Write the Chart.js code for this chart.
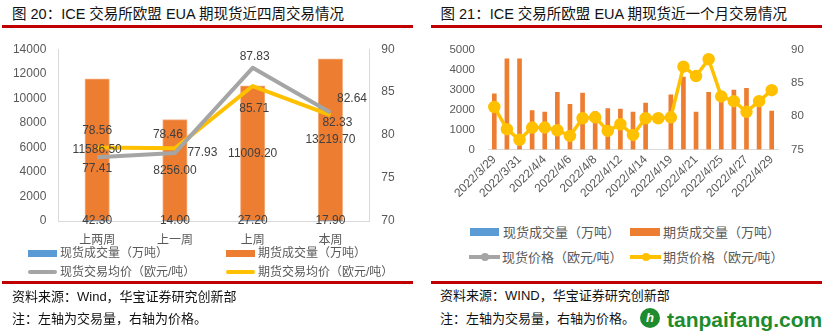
<!DOCTYPE html>
<html><head><meta charset="utf-8">
<script src="https://cdn.jsdelivr.net/npm/chart.js@4.4.1/dist/chart.umd.min.js"></script>
<style>
body{margin:0;width:838px;height:336px;background:#fff;position:relative;overflow:hidden;font-family:"Liberation Sans","Noto Sans CJK SC",sans-serif;}
.abs{position:absolute;white-space:nowrap;line-height:1;}
.title{font-size:14.5px;color:#111;}
.red{position:absolute;background:#C00000;height:3px;}
.foot{font-size:13px;color:#111;}
.legl{font-size:12px;color:#595959;}
.legr{font-size:13px;color:#595959;}
canvas{position:absolute;}
</style></head>
<body>
<div class="abs title" style="left:12px;top:6.5px;">图 20：ICE 交易所欧盟 EUA 期现货近四周交易情况</div>
<div class="red" style="left:2px;top:24.5px;width:411px;"></div>
<div class="abs title" style="left:440.5px;top:6.5px;">图 21：ICE 交易所欧盟 EUA 期现货近一个月交易情况</div>
<div class="red" style="left:431px;top:24.5px;width:391px;"></div>

<canvas id="c1" width="420" height="220" style="left:0;top:30px;"></canvas>
<canvas id="c2" width="418" height="185" style="left:420px;top:30px;"></canvas>

<!-- left legend -->
<div class="abs" style="left:28px;top:250px;width:29px;height:7px;background:#5B9BD5;"></div>
<div class="abs legl" style="left:60px;top:247.3px;">现货成交量（万吨）</div>
<div class="abs" style="left:226px;top:250px;width:29px;height:7px;background:#ED7D31;"></div>
<div class="abs legl" style="left:258px;top:247.3px;">期货成交量（万吨）</div>
<div class="abs" style="left:28px;top:269.7px;width:29px;height:4px;border-radius:2px;background:#A5A5A5;"></div>
<div class="abs legl" style="left:60px;top:265.7px;">现货交易均价（欧元/吨）</div>
<div class="abs" style="left:226px;top:269.7px;width:29px;height:4px;border-radius:2px;background:#FFC000;"></div>
<div class="abs legl" style="left:258px;top:265.7px;">期货交易均价（欧元/吨）</div>
<div class="red" style="left:2px;top:280.5px;width:411px;"></div>
<div class="abs foot" style="left:12px;top:289.5px;">资料来源：Wind，华宝证券研究创新部</div>
<div class="abs foot" style="left:12px;top:311.5px;">注：左轴为交易量，右轴为价格。</div>

<!-- right legend -->
<div class="abs" style="left:470px;top:228.3px;width:29px;height:8px;background:#5B9BD5;"></div>
<div class="abs legr" style="left:503px;top:225.8px;">现货成交量（万吨）</div>
<div class="abs" style="left:630px;top:228.3px;width:30px;height:8px;background:#ED7D31;"></div>
<div class="abs legr" style="left:663px;top:225.8px;">期货成交量（万吨）</div>
<div class="abs" style="left:469px;top:255.3px;width:31px;height:4px;background:#A5A5A5;"></div>
<div class="abs" style="left:480.5px;top:253.3px;width:8px;height:8px;border-radius:4px;background:#A5A5A5;"></div>
<div class="abs legr" style="left:502px;top:250.8px;">现货价格（欧元/吨）</div>
<div class="abs" style="left:630px;top:255.3px;width:31px;height:4px;background:#FFC000;"></div>
<div class="abs" style="left:641.5px;top:253.3px;width:8px;height:8px;border-radius:4px;background:#FFC000;"></div>
<div class="abs legr" style="left:663px;top:250.8px;">期货价格（欧元/吨）</div>
<div class="red" style="left:431px;top:281.3px;width:391px;"></div>
<div class="abs foot" style="left:440px;top:288.5px;">资料来源：WIND，华宝证券研究创新部</div>
<div class="abs foot" style="left:440px;top:311.8px;">注：左轴为交易量，右轴为价格。</div>
<div class="abs" style="left:640px;top:308px;width:20px;height:20px;border-radius:10px;background:#1E8C2E;color:#fff;font:bold italic 13px 'Liberation Sans';text-align:center;line-height:20px;">h</div>
<div class="abs" style="left:667px;top:307.5px;font:bold 21px 'Liberation Sans',Arial,sans-serif;color:#1E8C2E;">tanpaifang.com</div>

<script>
// ===== Figure 20 data =====
const weekCats = ['上两周','上一周','上周','本周'];
const weekSpotVol = [42.30, 14.00, 27.20, 17.90];
const weekFutVol = [11586.50, 8256.00, 11009.20, 13219.70];
const weekSpotPrice = [77.41, 77.93, 87.83, 82.64];
const weekFutPrice = [78.56, 78.46, 85.71, 82.33];
const leftAxisTicks = [0, 2000, 4000, 6000, 8000, 10000, 12000, 14000];
const rightAxisTicks20 = [70, 75, 80, 85, 90];

// ===== Figure 21 data =====
const dayCats = ['2022/3/29','2022/3/30','2022/3/31','2022/4/1','2022/4/4','2022/4/5','2022/4/6','2022/4/7','2022/4/8','2022/4/11','2022/4/12','2022/4/13','2022/4/14','2022/4/18','2022/4/19','2022/4/20','2022/4/21','2022/4/22','2022/4/25','2022/4/26','2022/4/27','2022/4/28','2022/4/29'];
const daySpotVol = [];
const dayFutVol = [2800, 4550, 4550, 1950, 1880, 2870, 2270, 2830, 1900, 2050, 2030, 1880, 2330, null, 2750, 3630, 1880, 2870, 2900, 2980, 3070, 2400, 1930];
const daySpotPrice = [];
const dayFutPrice = [81.4, 78.06, 76.46, 78.3, 78.3, 77.9, 77.04, 79.7, 79.85, 77.8, 78.8, 77.2, 79.7, 79.7, 79.85, 87.47, 86.06, 88.6, 83.0, 82.28, 80.68, 82.28, 83.93];

const TICK = '#595959';
const AXIS = '#D9D9D9';
const numFont = {family: '"Liberation Sans", Arial, sans-serif', size: 12};
const plain = v => String(v);

const valueLabels = {
  id: 'valueLabels',
  afterDatasetsDraw(chart) {
    const ctx = chart.ctx;
    chart.data.datasets.forEach((ds, i) => {
      if (!ds.showValues) return;
      const meta = chart.getDatasetMeta(i);
      meta.data.forEach((el, j) => {
        const v = ds.data[j];
        if (v == null) return;
        let x, y;
        if (meta.type === 'bar') { x = el.x; y = (el.y + el.base) / 2; }
        else { const o = ds.labelOffsets[j]; x = el.x + o[0]; y = el.y + o[1]; }
        ctx.save();
        ctx.font = '12px "Liberation Sans", Arial, sans-serif';
        ctx.fillStyle = '#404040';
        ctx.textAlign = 'center';
        ctx.textBaseline = 'middle';
        ctx.fillText(v.toFixed(2), x, y);
        ctx.restore();
      });
    });
  }
};

new Chart(document.getElementById('c1'), {
  data: {
    labels: weekCats,
    datasets: [
      {type: 'line', data: weekSpotPrice, yAxisID: 'y1', borderColor: '#A5A5A5', borderWidth: 4, pointRadius: 0, order: 0,
       borderJoinStyle: 'round', showValues: true, labelOffsets: [[0, 11], [27.5, 0], [2, -11.5], [21.6, -14]]},
      {type: 'line', data: weekFutPrice, yAxisID: 'y1', borderColor: '#FFC000', borderWidth: 4, pointRadius: 0, order: 0,
       borderJoinStyle: 'round', showValues: true, labelOffsets: [[0, -17], [-7, -14], [1.6, 23], [7, 7.3]]},
      {type: 'bar', data: weekSpotVol, yAxisID: 'y', backgroundColor: '#5B9BD5', barThickness: 24.5, grouped: false, order: 1, showValues: true},
      {type: 'bar', data: weekFutVol, yAxisID: 'y', backgroundColor: '#ED7D31', borderColor: '#F4B183', borderWidth: 1, barThickness: 24.5, grouped: false, order: 2, showValues: true}
    ]
  },
  options: {
    responsive: false, animation: false, devicePixelRatio: 1,
    layout: {padding: {top: 11, left: 0, right: 0, bottom: 0}},
    plugins: {legend: {display: false}, tooltip: {enabled: false}},
    scales: {
      x: {grid: {display: false, drawTicks: false}, border: {display: true, color: AXIS},
          ticks: {color: TICK, font: {family: '"Noto Sans CJK SC", sans-serif', size: 12}, padding: 11},
          afterFit: s => { s.height = 29; }},
      y: {position: 'left', min: 0, max: 14000, grid: {display: false, drawTicks: false}, border: {display: true, color: AXIS},
          afterBuildTicks: s => { s.ticks = leftAxisTicks.map(v => ({value: v})); },
          ticks: {color: TICK, font: numFont, padding: 12, callback: plain}, afterFit: s => { s.width = 58.3; }},
      y1: {position: 'right', min: 70, max: 90, grid: {display: false, drawTicks: false}, border: {display: true, color: AXIS},
          afterBuildTicks: s => { s.ticks = rightAxisTicks20.map(v => ({value: v})); },
          ticks: {color: TICK, font: numFont, padding: 12, callback: plain}, afterFit: s => { s.width = 50.7; }}
    }
  },
  plugins: [valueLabels]
});

const numFont2 = {family: '"Liberation Sans", Arial, sans-serif', size: 11.5};
new Chart(document.getElementById('c2'), {
  data: {
    labels: dayCats,
    datasets: [
      {type: 'line', data: daySpotPrice, yAxisID: 'y1', borderColor: '#A5A5A5', backgroundColor: '#A5A5A5', borderWidth: 3.5, pointRadius: 4.5, order: 1},
      {type: 'line', data: dayFutPrice, yAxisID: 'y1', borderColor: '#FFC000', backgroundColor: '#FFC000', pointBackgroundColor: '#FFC000', pointBorderColor: '#FFC000',
       borderWidth: 3.5, pointRadius: 4.5, borderJoinStyle: 'round', order: 0},
      {type: 'bar', data: daySpotVol, yAxisID: 'y', backgroundColor: '#5B9BD5', barThickness: 4, grouped: false, order: 2},
      {type: 'bar', data: dayFutVol, yAxisID: 'y', backgroundColor: '#ED7D31', barThickness: 4, grouped: false, order: 3}
    ]
  },
  options: {
    responsive: false, animation: false, devicePixelRatio: 1,
    layout: {padding: {top: 18, left: 0, right: 0, bottom: 0}},
    plugins: {legend: {display: false}, tooltip: {enabled: false}},
    scales: {
      x: {grid: {display: false, drawTicks: false}, border: {display: true, color: AXIS},
          ticks: {color: TICK, font: {family: '"Liberation Sans", Arial, sans-serif', size: 12}, padding: 3,
                  autoSkip: false, maxRotation: 45, minRotation: 45,
                  callback: function(v, i) { return i % 2 === 0 ? this.getLabelForValue(v) : ''; }},
          afterFit: s => { s.height = 65.5; }},
      y: {position: 'left', min: 0, max: 5000, grid: {display: false, drawTicks: false}, border: {display: false},
          ticks: {color: TICK, font: numFont2, padding: 13, stepSize: 1000, callback: plain}, afterFit: s => { s.width = 68; }},
      y1: {position: 'right', min: 75, max: 90, grid: {display: false, drawTicks: false}, border: {display: false},
          ticks: {color: TICK, font: numFont2, padding: 13, stepSize: 5, callback: plain}, afterFit: s => { s.width = 60; }}
    }
  }
});
</script>
</body></html>
